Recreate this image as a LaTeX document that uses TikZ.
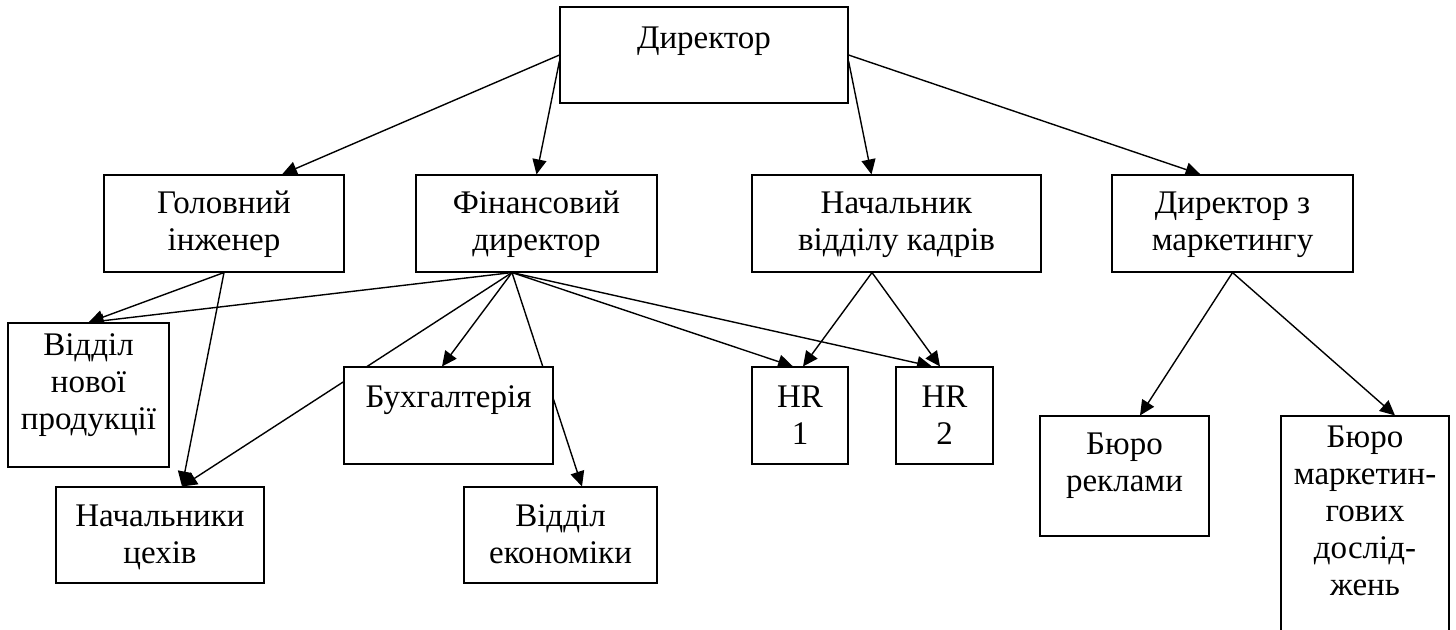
\documentclass[tikz,border=0pt]{standalone}
\usepackage{fontspec}
\setmainfont{Liberation Serif}
\usetikzlibrary{arrows.meta,backgrounds}
\begin{document}
\begin{tikzpicture}[x=1pt,y=-1pt,
  box/.style={draw=black, line width=1.1pt, fill=white, inner sep=0pt},
  lbl/.style={anchor=north, inner sep=0pt, align=center, font=\fontsize{33}{37}\selectfont},
  conn/.style={line width=1.4pt, -{Triangle[length=15pt,width=14pt]}}
]
\useasboundingbox (0,0) rectangle (1456,629);
\clip (0,0) rectangle (1456,629);

% boxes
\node[box, minimum width=288pt, minimum height=96pt] (dir)  at (704,55) {};
\node[box, minimum width=240pt, minimum height=97pt] (gol)  at (224,223.5) {};
\node[box, minimum width=241pt, minimum height=97pt] (fin)  at (536.5,223.5) {};
\node[box, minimum width=289pt, minimum height=97pt] (nach) at (896.5,223.5) {};
\node[box, minimum width=241pt, minimum height=97pt] (mark) at (1232.5,223.5) {};
\node[box, minimum width=161pt, minimum height=144pt] (vnp) at (88.5,395) {};
\node[box, minimum width=209pt, minimum height=97pt] (buh)  at (448.5,415.5) {};
\node[box, minimum width=96pt, minimum height=97pt] (hr1)   at (800,415.5) {};
\node[box, minimum width=97pt, minimum height=97pt] (hr2)   at (944.5,415.5) {};
\node[box, minimum width=208pt, minimum height=96pt] (nc)   at (160,535) {};
\node[box, minimum width=193pt, minimum height=96pt] (ve)   at (560.5,535) {};
\node[box, minimum width=169pt, minimum height=120pt] (br)  at (1124.5,476) {};
\node[box, minimum width=168pt, minimum height=244pt] (bm)  at (1365,538) {};

% texts
\node[lbl] (dirT)  at (704,22.1) {\strut Директор};
\node[lbl] (golT)  at (224,187.1) {\strut Головний\\\strut інженер};
\node[lbl] (finT)  at (536.5,187.1) {\strut Фінансовий\\\strut директор};
\node[lbl] (nachT) at (896.5,187.1) {\strut Начальник\\\strut відділу кадрів};
\node[lbl] (markT) at (1232.5,187.1) {\strut Директор з\\\strut маркетингу};
\node[lbl] (vnpT)  at (88.5,329.6) {\strut Відділ\\\strut нової\\\strut продукції};
\node[lbl] (buhT)  at (448.5,381.1) {\strut Бухгалтерія};
\node[lbl] (hr1T)  at (800,381.1) {\strut HR\\\strut 1};
\node[lbl] (hr2T)  at (944.5,381.1) {\strut HR\\\strut 2};
\node[lbl] (ncT)   at (160,500.1) {\strut Начальники\\\strut цехів};
\node[lbl] (veT)   at (560.5,500.1) {\strut Відділ\\\strut економіки};
\node[lbl] (brT)   at (1124.5,428.1) {\strut Бюро\\\strut реклами};
\node[lbl] (bmT)   at (1365,421.6) {\strut Бюро\\\strut маркетин-\\\strut гових\\\strut дослід-\\\strut жень};

% connectors
\begin{pgfonlayer}{background}
\draw[conn] (dir.west) -- ([xshift=58pt]gol.north);
\draw[conn] ([yshift=-6pt]dir.west) -- (fin.north);
\draw[conn] ([yshift=-6pt]dir.east) -- ([xshift=-25pt]nach.north);
\draw[conn] (dir.east) -- ([xshift=-32pt]mark.north);
\draw[conn] (gol.south) -- (vnp.north);
\draw[conn] (gol.south) -- ([xshift=22pt]nc.north);
\draw[conn] ([xshift=-24.5pt]fin.south) -- (vnp.north);
\draw[conn] ([xshift=-24.5pt]fin.south) -- ([xshift=22pt]nc.north);
\draw[conn] ([xshift=-24.5pt]fin.south) -- ([xshift=-6.5pt]buh.north);
\draw[conn] ([xshift=-24.5pt]fin.south) -- ([xshift=21.5pt]ve.north);
\draw[conn] ([xshift=-24.5pt]fin.south) -- ([xshift=-7pt]hr1.north);
\draw[conn] ([xshift=-24.5pt]fin.south) -- ([xshift=-12.5pt]hr2.north);
\draw[conn] ([xshift=-24.5pt]nach.south) -- ([xshift=3pt]hr1.north);
\draw[conn] ([xshift=-24.5pt]nach.south) -- ([xshift=-4.5pt]hr2.north);
\draw[conn] (mark.south) -- ([xshift=15.5pt]br.north);
\draw[conn] (mark.south) -- ([xshift=30pt]bm.north);
\end{pgfonlayer}
\end{tikzpicture}
\end{document}
